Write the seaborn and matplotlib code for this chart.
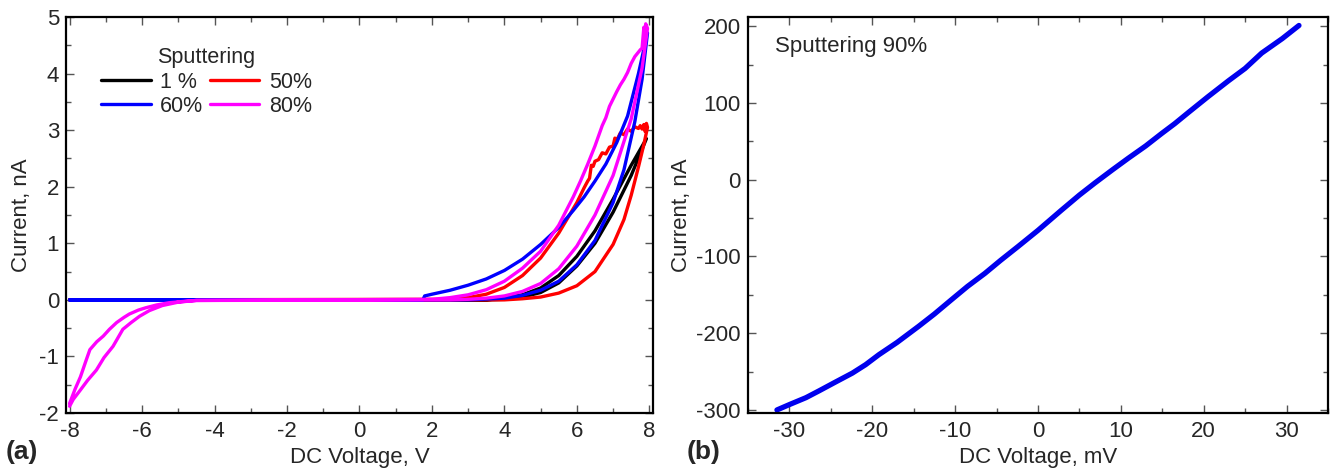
import numpy as np
import pandas as pd
import matplotlib
matplotlib.use("Agg")
import matplotlib.pyplot as plt
import seaborn as sns
from matplotlib.ticker import MultipleLocator

# ---------------- data: panel (a) ----------------
# 1 % sputtering (black)
v_black_fwd = [-8.0, 3.5, 4.0, 4.5, 5.0, 5.5, 6.0, 6.5, 7.0, 7.5, 7.92]
i_black_fwd = [0.0, 0.0, 0.01, 0.05, 0.13, 0.30, 0.60, 1.00, 1.55, 2.20, 2.85]
v_black_bwd = [7.92, 7.5, 7.0, 6.5, 6.0, 5.5, 5.0, 4.5, 4.0, 3.5, -8.0]
i_black_bwd = [2.85, 2.38, 1.78, 1.22, 0.77, 0.43, 0.21, 0.09, 0.03, 0.0, 0.0]

# 50 % sputtering (red)
v_red_fwd = [-8.0, 4.0, 4.5, 5.0, 5.5, 6.0, 6.5, 7.0, 7.3, 7.5, 7.7, 7.85, 7.95]
i_red_fwd = [0.0, 0.0, 0.02, 0.05, 0.12, 0.25, 0.50, 0.98, 1.42, 1.85, 2.35, 2.75, 3.05]
v_red_bwd = [7.95, 7.92, 7.88, 7.85, 7.8, 7.75, 7.7, 7.6, 7.5, 7.4, 7.3, 7.2, 7.1, 7.05,
             7.0, 6.9, 6.8, 6.7, 6.6, 6.5, 6.45, 6.4, 6.35, 6.3, 6.2, 6.0, 5.5, 5.0,
             4.5, 4.0, 3.5, 3.0, 2.5, -8.0]
i_red_bwd = [3.05, 3.12, 2.98, 3.10, 3.02, 3.08, 3.03, 3.06, 2.98, 3.02, 2.92, 2.95, 2.82, 2.86,
             2.72, 2.70, 2.58, 2.60, 2.48, 2.45, 2.36, 2.38, 2.15, 2.10, 1.98, 1.72, 1.18, 0.74,
             0.43, 0.22, 0.10, 0.04, 0.01, 0.0]

# 60 % sputtering (blue)
v_blue_fwd = [-8.0, 3.0, 4.0, 4.5, 5.0, 5.5, 6.0, 6.5, 7.0, 7.3, 7.6, 7.8, 7.95]
i_blue_fwd = [0.0, 0.0, 0.03, 0.08, 0.17, 0.33, 0.62, 1.05, 1.72, 2.30, 3.15, 3.90, 4.72]
v_blue_bwd = [7.95, 7.7, 7.4, 7.1, 6.8, 6.5, 6.2, 5.9, 5.5, 5.0, 4.5, 4.0, 3.5, 3.0, 2.5, 2.0, 1.8, 1.75, -8.0]
i_blue_bwd = [4.72, 4.00, 3.25, 2.78, 2.40, 2.10, 1.82, 1.58, 1.28, 0.98, 0.72, 0.52, 0.37, 0.26, 0.17, 0.10, 0.07, 0.0, 0.0]

# 80 % sputtering (magenta)
v_mag_fwd = [-8.0, -7.85, -7.7, -7.55, -7.44, -7.25, -7.07, -6.9, -6.7, -6.5, -6.35, -6.1, -5.9,
             -5.6, -5.25, -4.9, -4.5, 2.5, 3.0, 3.5, 4.0, 4.5, 5.0, 5.5,
             6.0, 6.5, 7.0, 7.5, 7.8, 7.95]
i_mag_fwd = [-1.83, -1.58, -1.36, -1.08, -0.88, -0.74, -0.64, -0.52, -0.40, -0.31, -0.25, -0.18, -0.14,
             -0.09, -0.05, -0.03, -0.01, 0.0, 0.01, 0.03, 0.07, 0.15, 0.29, 0.55,
             0.95, 1.50, 2.20, 3.20, 4.10, 4.80]
v_mag_bwd = [7.95, 7.9, 7.88, 7.85, 7.8, 7.75, 7.7, 7.6, 7.5, 7.4, 7.3, 7.2, 7.1, 7.0, 6.9, 6.8,
             6.7, 6.6, 6.5, 6.3, 6.1, 5.9, 5.5, 5.0, 4.5, 4.0, 3.5, 3.0, 2.5, 2.0, -4.5,
             -5.0, -5.44, -5.8, -6.07, -6.3, -6.53, -6.8, -7.05, -7.26, -7.5, -7.71, -7.9, -8.0]
i_mag_bwd = [4.80, 4.88, 4.70, 4.82, 4.45, 4.42, 4.38, 4.30, 4.18, 4.02, 3.90, 3.80, 3.68, 3.55, 3.42, 3.22,
             3.08, 2.90, 2.72, 2.40, 2.10, 1.82, 1.32, 0.86, 0.56, 0.33, 0.18, 0.09, 0.04, 0.01, -0.01,
             -0.04, -0.10, -0.19, -0.29, -0.40, -0.52, -0.82, -1.02, -1.24, -1.42, -1.60, -1.76, -1.88]

# ---------------- data: panel (b) ----------------
v_90 = [-31.5, -30.0, -28.0, -26.4, -24.5, -22.4, -20.8, -19.2, -17.0, -14.4, -12.5, -10.4, -8.5, -6.4,
        -4.5, -2.4, 0.0, 2.8, 5.0, 6.9, 9.0, 10.9, 13.0, 14.9, 16.5, 18.2, 20.5, 23.0, 25.0, 27.0, 29.5, 31.5]
i_90 = [-300, -293, -284, -275, -264, -252, -241, -228, -212, -191, -175, -156, -139, -122,
        -105, -87, -66, -40, -20, -4, 13, 28, 44, 60, 73, 88, 108, 129, 145, 165, 184, 201]

series_labels = ["1 %", "50%", "60%", "80%"]
colors = ["#000000", "#ff0000", "#0000ff", "#ff00ff"]

# ---------------- style ----------------
sns.set_style("ticks")
plt.rcParams["font.family"] = ["Liberation Sans", "DejaVu Sans"]
plt.rcParams["axes.linewidth"] = 1.6
plt.rcParams["axes.unicode_minus"] = False

FS = 16

fig = plt.figure(figsize=(13.38, 4.73), dpi=100)
ax1 = fig.add_axes([0.0493, 0.1268, 0.4387, 0.8372])
ax2 = fig.add_axes([0.5590, 0.1268, 0.4335, 0.8372])

curves = [
    (v_black_fwd + v_black_bwd, i_black_fwd + i_black_bwd),
    (v_red_fwd + v_red_bwd, i_red_fwd + i_red_bwd),
    (v_blue_fwd + v_blue_bwd, i_blue_fwd + i_blue_bwd),
    (v_mag_fwd + v_mag_bwd, i_mag_fwd + i_mag_bwd),
]
for (vx, iy), lab, col in zip(curves, series_labels, colors):
    df = pd.DataFrame({"V": vx, "I": iy})
    sns.lineplot(data=df, x="V", y="I", sort=False, estimator=None, color=col,
                 lw=2.4, ax=ax1, label=lab, legend=True)

ax1.set_xlim(-8.1, 8.1)
ax1.set_ylim(-2, 5)
ax1.xaxis.set_major_locator(MultipleLocator(2))
ax1.xaxis.set_minor_locator(MultipleLocator(1))
ax1.yaxis.set_major_locator(MultipleLocator(1))
ax1.yaxis.set_minor_locator(MultipleLocator(0.5))
ax1.set_xlabel("DC Voltage, V", fontsize=FS, labelpad=3)
ax1.set_ylabel("Current, nA", fontsize=FS, labelpad=5)

handles, labels = ax1.get_legend_handles_labels()
order = [0, 2, 1, 3]  # row-wise: 1 %, 50% / 60%, 80%
leg = ax1.legend([handles[k] for k in order], [labels[k] for k in order],
                 title="Sputtering", ncol=2, frameon=False, fontsize=FS - 0.5,
                 title_fontsize=FS - 0.5, loc="upper left", bbox_to_anchor=(0.045, 0.945),
                 handlelength=2.3, handletextpad=0.45, columnspacing=0.3,
                 labelspacing=0.15, borderaxespad=0)
for h in leg.get_lines():
    h.set_linewidth(2.4)

df90 = pd.DataFrame({"V": v_90, "I": i_90})
sns.lineplot(data=df90, x="V", y="I", sort=False, estimator=None, color="#0000ee",
             lw=3.8, ax=ax2)
ax2.set_xlim(-35, 35)
ax2.set_ylim(-304, 212)
ax2.xaxis.set_major_locator(MultipleLocator(10))
ax2.xaxis.set_minor_locator(MultipleLocator(5))
ax2.yaxis.set_major_locator(MultipleLocator(100))
ax2.yaxis.set_minor_locator(MultipleLocator(50))
ax2.set_xlabel("DC Voltage, mV", fontsize=FS, labelpad=3)
ax2.set_ylabel("Current, nA", fontsize=FS, labelpad=3)
ax2.text(0.047, 0.925, "Sputtering 90%", transform=ax2.transAxes, fontsize=FS,
         ha="left", va="center")

for ax in (ax1, ax2):
    ax.tick_params(which="both", direction="in", top=True, right=True, labelsize=FS,
                   color="#555555")
    ax.tick_params(which="major", length=6, width=1.0)
    ax.tick_params(which="minor", length=3.5, width=1.0)
    ax.tick_params(axis="x", which="major", pad=6)
    ax.tick_params(axis="y", which="major", pad=5)
    for s in ax.spines.values():
        s.set_visible(True)
        s.set_color("black")

fig.text(0.004, 0.03, "(a)", fontsize=19, fontweight="bold", ha="left", va="baseline")
fig.text(0.513, 0.03, "(b)", fontsize=19, fontweight="bold", ha="left", va="baseline")

fig.savefig("out.png", dpi=100)
